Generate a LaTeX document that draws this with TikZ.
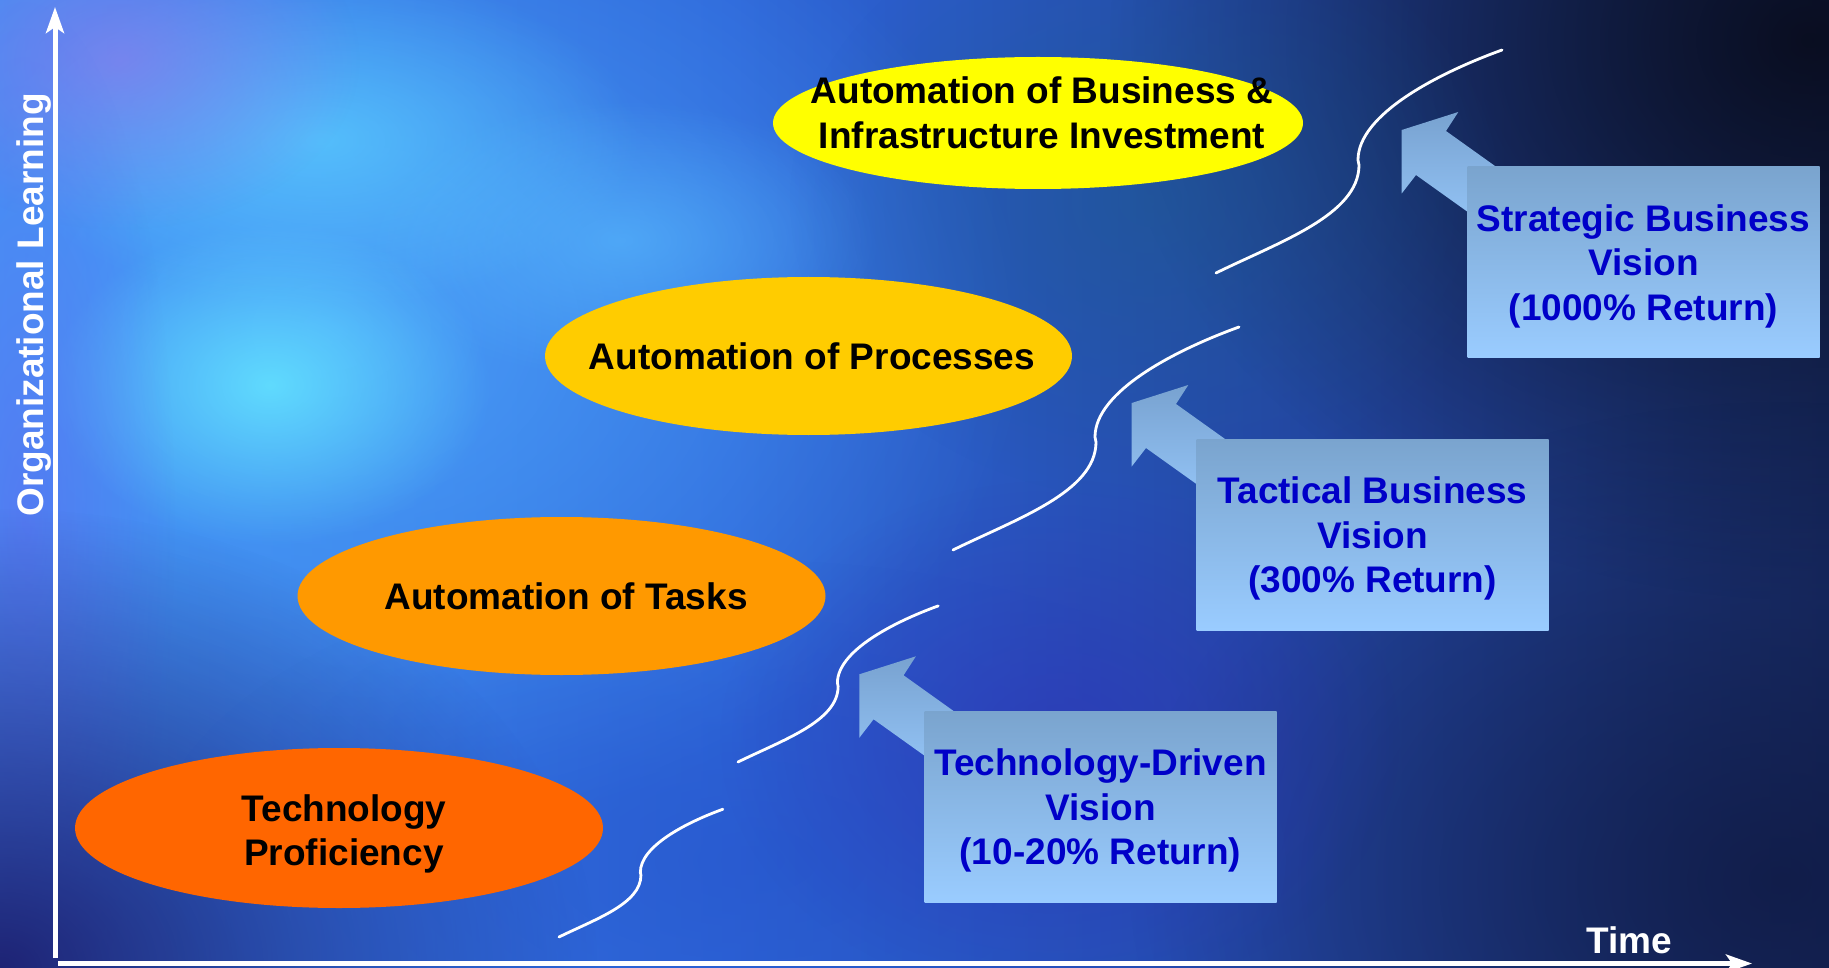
\documentclass[tikz,border=0pt]{standalone}
\usepackage{fontspec}
\setmainfont{Liberation Sans}
\usetikzlibrary{shapes.geometric,arrows.meta,fadings}
\tikzfading[name=softblob, inner color=transparent!0, outer color=transparent!100]
\pgfdeclarehorizontalshading{bgshade}{100bp}{rgb(0bp)=(0.34,0.50,0.94); rgb(25bp)=(0.24,0.54,0.94); rgb(45bp)=(0.18,0.40,0.85); rgb(60bp)=(0.14,0.28,0.65); rgb(70bp)=(0.11,0.21,0.48); rgb(80bp)=(0.08,0.14,0.33); rgb(90bp)=(0.05,0.08,0.20); rgb(100bp)=(0.04,0.04,0.12)}
\definecolor{ellA}{HTML}{FF6600}
\definecolor{ellB}{HTML}{FF9900}
\definecolor{ellC}{HTML}{FFCC00}
\definecolor{ellD}{HTML}{FFFF00}
\definecolor{boxtop}{HTML}{7AA4CE}
\definecolor{boxbot}{HTML}{9ACCFF}
\definecolor{arrtop}{HTML}{78A2D0}
\definecolor{arrbot}{HTML}{9ACCFF}
\definecolor{boxblue}{HTML}{0000C8}
\definecolor{bgA}{RGB}{80,170,255}
\definecolor{bgB}{RGB}{100,230,255}
\definecolor{bgC}{RGB}{90,205,255}
\definecolor{bgD}{RGB}{90,190,255}
\definecolor{bgE}{RGB}{150,120,235}
\definecolor{bgF}{RGB}{100,100,240}
\definecolor{bgG}{RGB}{28,30,110}
\definecolor{bgH}{RGB}{6,6,15}
\definecolor{bgI}{RGB}{14,22,60}
\definecolor{bgJ}{RGB}{36,80,200}
\definecolor{bgK}{RGB}{30,90,140}
\definecolor{bgL}{RGB}{48,48,180}
\begin{document}
\begin{tikzpicture}[x=1pt,y=-1pt,
  lbl/.style={font=\fontsize{37}{44.5}\selectfont\bfseries, align=center, inner sep=0pt},
  boxtext/.style={lbl, text=boxblue},
  ovalshape/.style={ellipse, inner sep=0pt, draw=none},
  visionbox/.style={rectangle, minimum width=352pt, minimum height=191pt, inner sep=0pt, top color=boxtop, bottom color=boxbot},
  blockarrow/.style={top color=arrtop, bottom color=arrbot},
  sline/.style={draw=white, line width=2.8pt, line cap=round},
  axisline/.style={draw=white, -{Stealth[length=26pt,width=18pt,inset=6pt]}},
  blob/.style={path fading=softblob, fill opacity=#1},
  blob/.default=0.6]
\useasboundingbox (0,0) rectangle (1829,968);
% ---------- background ----------
\shade[shading=bgshade] (0,0) rectangle (1829,968);
\fill[bgA, blob=0.75] (330,330) ellipse (700 and 520);
\fill[bgB, blob=0.85] (270,385) ellipse (220 and 160);
\fill[bgC, blob=0.75] (320,140) ellipse (320 and 170);
\fill[bgD, blob=0.6] (620,240) ellipse (260 and 140);
\fill[bgE, blob=0.6] (120,60) ellipse (240 and 170);
\fill[bgF, blob=0.5] (25,520) ellipse (150 and 520);
\fill[bgG, blob=0.95] (0,968) ellipse (600 and 460);
\fill[bgH, blob=0.8] (1810,40) ellipse (700 and 560);
\fill[bgI, blob=0.7] (1780,880) ellipse (650 and 480);
\fill[bgJ, blob=0.5] (750,860) ellipse (600 and 300);
\fill[bgK, blob=0.55] (1150,200) ellipse (360 and 300);
\fill[bgL, blob=0.6] (1060,740) ellipse (340 and 260);
% ---------- axes ----------
\coordinate (ybot) at (55,958);
\coordinate (ytop) at (55,7);
\coordinate (xleft) at (58,963.5);
\coordinate (xright) at (1752,963.5);
\draw[axisline, line width=5pt] (ybot) -- (ytop);
\draw[axisline, line width=4.5pt] (xleft) -- (xright);
\node[lbl, text=white, rotate=90, anchor=base] (ylabel) at (43,305) {Organizational Learning};
\node[lbl, text=white, anchor=base] (xlabel) at (1629,953) {Time};
% ---------- ovals ----------
\node[ovalshape, fill=ellA, minimum width=528pt, minimum height=160pt] (oval1) at (339,828) {};
\node[lbl] (oval1text) at (344,834) {Technology\\Proficiency};
\node[ovalshape, fill=ellB, minimum width=528pt, minimum height=158pt] (oval2) at (561.5,596) {};
\node[lbl] (oval2text) at (566,596) {Automation of Tasks};
\node[ovalshape, fill=ellC, minimum width=527pt, minimum height=158pt] (oval3) at (808.5,356) {};
\node[lbl] (oval3text) at (812,356) {Automation of Processes};
\node[ovalshape, fill=ellD, minimum width=530pt, minimum height=132pt] (oval4) at (1038,123) {};
\node[lbl] (oval4text) at (1042,113) {Automation of Business \&\\Infrastructure Investment};
% ---------- learning curves ----------
\foreach \sx/\sy/\sc in {559/937/0.573, 738/762/0.70, 953/550/1, 1216/273/1}{
  \begin{scope}[shift={(\sx,\sy)}, scale=\sc]
    \draw[sline] (0,0) .. controls (63,-31) and (143,-58) .. (143,-108)
      -- (142,-113) .. controls (142,-158) and (220,-199) .. (286,-223);
  \end{scope}
}
% ---------- block arrows ----------
\foreach \tx/\ty in {859.3/674.3, 1131.7/403, 1401.7/130}{
  \begin{scope}[shift={(\tx,\ty)}]
    \shade[blockarrow] (0,0) -- (56.6,-18) -- (44.3,1) -- (150,76.5)
      -- (120,120.5) -- (14.3,45) -- (0,63.5) -- cycle;
  \end{scope}
}
% ---------- vision boxes ----------
\node[visionbox] (box1) at (1100.5,806.5) {};
\node[boxtext] (box1text) at ([yshift=-4pt]box1.center) {Technology-Driven\\Vision\\(10-20\% Return)};
\node[visionbox] (box2) at (1372.5,534.5) {};
\node[boxtext] (box2text) at ([yshift=-4pt]box2.center) {Tactical Business\\Vision\\(300\% Return)};
\node[visionbox] (box3) at (1643.5,262) {};
\node[boxtext] (box3text) at ([yshift=-4pt]box3.center) {Strategic Business\\Vision\\(1000\% Return)};
\end{tikzpicture}
\end{document}
